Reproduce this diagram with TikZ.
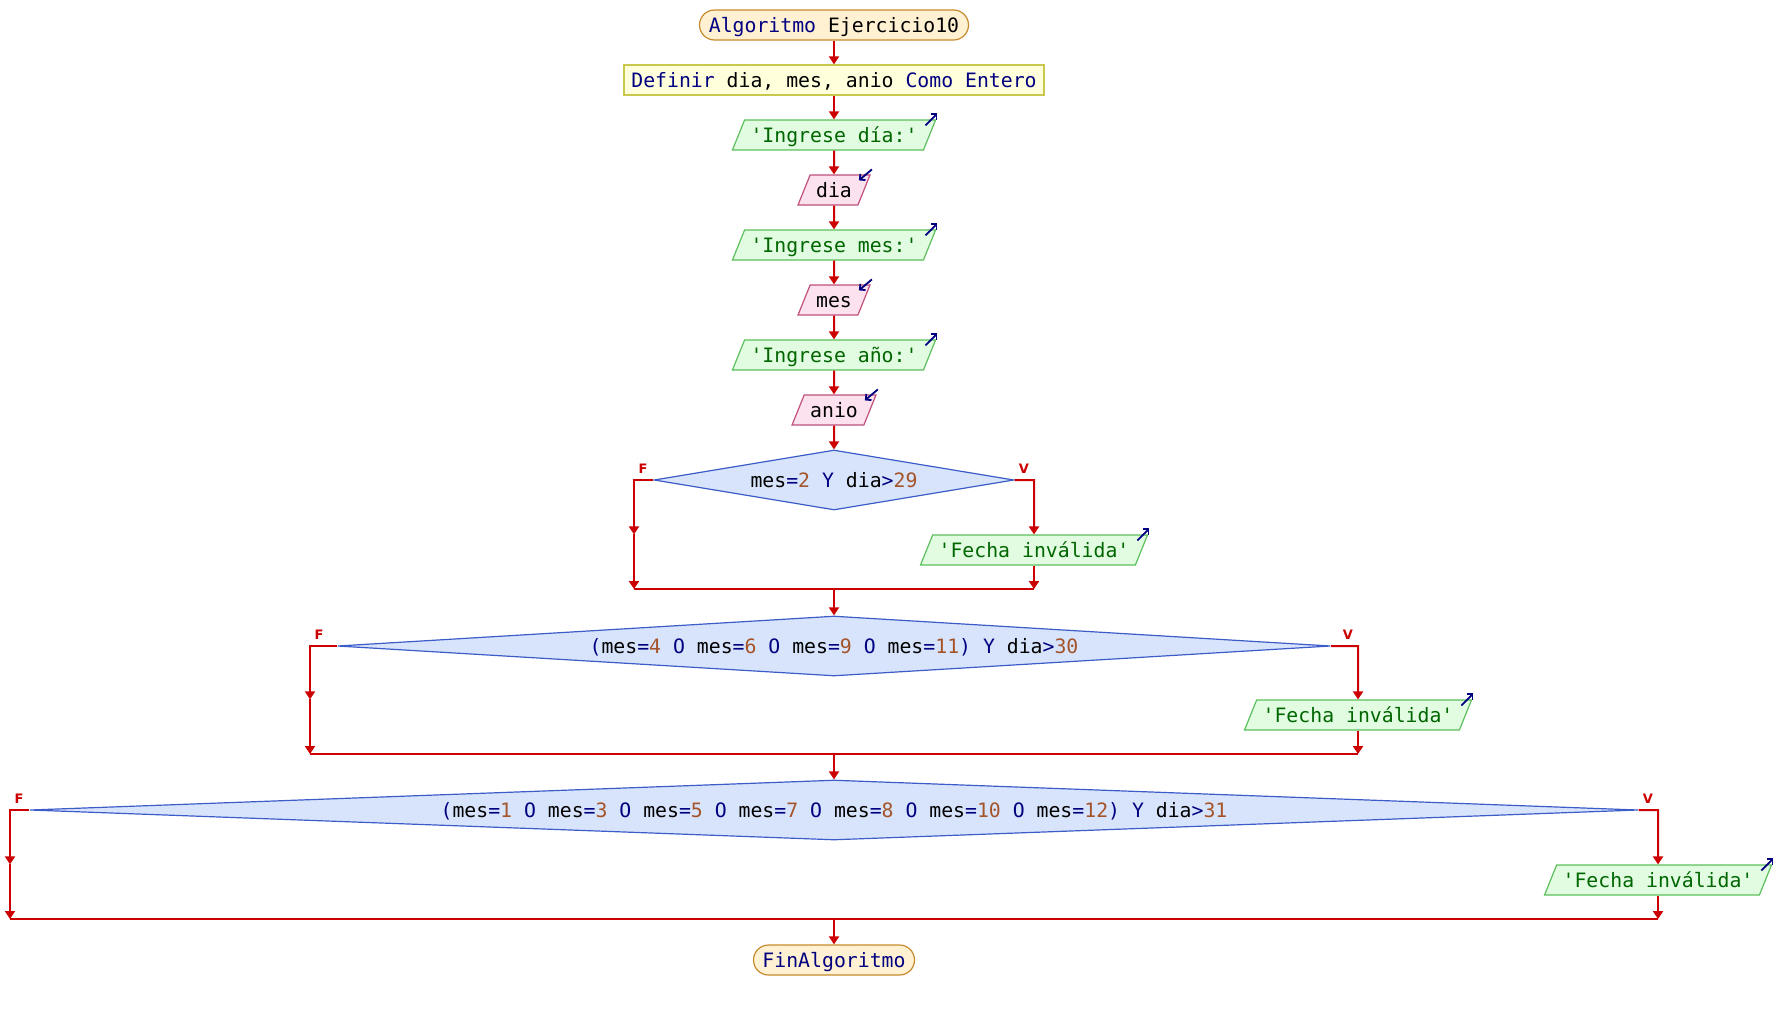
\documentclass[tikz,border=0pt]{standalone}
\usepackage{fontspec}
\setmonofont{DejaVu Sans Mono}
\setsansfont{DejaVu Sans}
\usetikzlibrary{shapes.geometric,arrows.meta,calc}

\definecolor{flowred}{HTML}{CC0000}
\definecolor{kwblue}{HTML}{000080}
\definecolor{numbrown}{HTML}{A5542A}
\definecolor{outgreen}{HTML}{006600}
\definecolor{termfill}{HTML}{FFF1D2}
\definecolor{termdraw}{HTML}{C88A2E}
\definecolor{deffill}{HTML}{FFFFDC}
\definecolor{defdraw}{HTML}{C8C84C}
\definecolor{outfill}{HTML}{E2FCE2}
\definecolor{outdraw}{HTML}{5CC05C}
\definecolor{infill}{HTML}{FCE2EE}
\definecolor{indraw}{HTML}{C0507C}
\definecolor{condfill}{HTML}{D7E4FC}
\definecolor{conddraw}{HTML}{3C5CC8}

% keyword and number colouring inside node texts
\newcommand\kw[1]{\textcolor{kwblue}{#1}}
\newcommand\nm[1]{\textcolor{numbrown}{#1}}

\begin{document}
\begin{tikzpicture}[x=1pt,y=-1pt,
  base/.style={font=\fontsize{19.8}{24}\selectfont\ttfamily, text height=15pt, text depth=1pt, inner sep=0pt, line width=1.2pt},
  term/.style={base, rectangle, rounded corners=15pt, fill=termfill, draw=termdraw, minimum height=30pt, text=kwblue},
  defbox/.style={base, rectangle, fill=deffill, draw=defdraw, minimum height=30pt},
  para/.style={base, trapezium, trapezium left angle=68, trapezium right angle=112, trapezium stretches body, inner ysep=7pt, inner xsep=6pt},
  outp/.style={para, fill=outfill, draw=outdraw, text=outgreen},
  inp/.style={para, fill=infill, draw=indraw},
  cond/.style={base, diamond, fill=condfill, draw=conddraw, minimum height=60pt},
  flow/.style={draw=flowred, line width=2pt, -{Triangle[length=8pt,width=10pt]}},
  wire/.style={draw=flowred, line width=2pt},
  tag/.style={text=flowred, font=\sffamily\bfseries\fontsize{13}{14}\selectfont, inner sep=0pt},
  icon/.style={draw=kwblue, line width=1.8pt, -{Straight Barb[length=4pt,width=8pt]}},
]
\path[use as bounding box] (0,0) rectangle (1776,1010);

% sequential part
\node[term, minimum width=269pt] (start) at (834,25) {Algoritmo \textcolor{black}{Ejercicio10}};
\node[defbox, minimum width=420pt] (defn) at (834,80) {\kw{Definir} dia, mes, anio \kw{Como Entero}};
\node[outp] (in1) at (834,135) {'Ingrese día:'};
\node[inp]  (rd1) at (834,190) {dia};
\node[outp] (in2) at (834,245) {'Ingrese mes:'};
\node[inp]  (rd2) at (834,300) {mes};
\node[outp] (in3) at (834,355) {'Ingrese año:'};
\node[inp]  (rd3) at (834,410) {anio};

% decisions
\node[cond, minimum width=360pt, aspect=6] (d1) at (834,480)
  {mes\kw{=}\nm{2} \kw{Y} dia\kw{>}\nm{29}};
\node[outp] (o1) at (1034,550) {'Fecha inválida'};
\coordinate (f1) at (634,480);
\coordinate (v1) at (1034,480);
\coordinate (j1) at (834,589);

\node[cond, minimum width=993pt, aspect=16.5] (d2) at (834,646)
  {\kw{(}mes\kw{=}\nm{4} \kw{O} mes\kw{=}\nm{6} \kw{O} mes\kw{=}\nm{9} \kw{O} mes\kw{=}\nm{11}\kw{)} \kw{Y} dia\kw{>}\nm{30}};
\node[outp] (o2) at (1358,715) {'Fecha inválida'};
\coordinate (f2) at (310,646);
\coordinate (v2) at (1358,646);
\coordinate (j2) at (834,754);

\node[cond, minimum width=1608pt, aspect=26.8] (d3) at (834,810)
  {\kw{(}mes\kw{=}\nm{1} \kw{O} mes\kw{=}\nm{3} \kw{O} mes\kw{=}\nm{5} \kw{O} mes\kw{=}\nm{7} \kw{O} mes\kw{=}\nm{8} \kw{O} mes\kw{=}\nm{10} \kw{O} mes\kw{=}\nm{12}\kw{)} \kw{Y} dia\kw{>}\nm{31}};
\node[outp] (o3) at (1658,880) {'Fecha inválida'};
\coordinate (f3) at (10,810);
\coordinate (v3) at (1658,810);
\coordinate (j3) at (834,919);

\node[term, minimum width=161pt] (stop) at (834,960) {FinAlgoritmo};

% straight connectors
\draw[flow] (start) -- (defn);
\draw[flow] (defn) -- (in1);
\draw[flow] (in1) -- (rd1);
\draw[flow] (rd1) -- (in2);
\draw[flow] (in2) -- (rd2);
\draw[flow] (rd2) -- (in3);
\draw[flow] (in3) -- (rd3);
\draw[flow] (rd3) -- (d1.north);

% branches of each decision
\foreach \d/\f/\v/\o/\j/\n in {d1/f1/v1/o1/j1/d2, d2/f2/v2/o2/j2/d3, d3/f3/v3/o3/j3/stop}{
  \draw[flow] (\d.west) -- (\f) -- (\f |- \o.north);
  \draw[flow] (\f |- \o.north) -- (\f |- \j);
  \draw[flow] (\d.east) -- (\v) -- (\o.north);
  \draw[flow] (\o.south) -- (\o.south |- \j);
  \draw[wire] (\f |- \j) -- (\o.south |- \j);
  \draw[flow] (\j) -- (\n.north);
  \node[tag] at ($(\f)+(9,-11)$) {F};
  \node[tag] at ($(\v)+(-10,-11)$) {V};
}

% output / input markers
\foreach \n in {in1,in2,in3,o1,o2,o3}
  \draw[icon] ($(\n.top right corner)+(-11,6)$) -- ($(\n.top right corner)+(1,-6)$);
\foreach \n in {rd1,rd2,rd3}
  \draw[icon] ($(\n.top right corner)+(1,-5)$) -- ($(\n.top right corner)+(-12,6)$);
\end{tikzpicture}
\end{document}
